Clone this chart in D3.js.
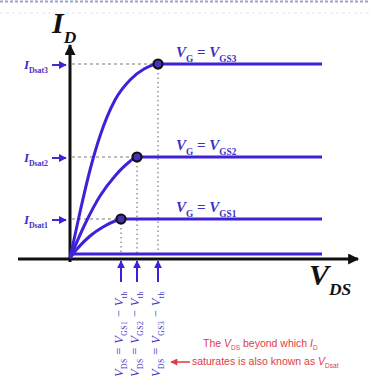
<!DOCTYPE html>
<html><head><meta charset="utf-8">
<script src="https://cdn.jsdelivr.net/npm/d3@7"></script>
<style>body{margin:0;background:#fff}svg{display:block}</style>
</head><body>
<script>
// Output characteristics of a MOSFET: I_D versus V_DS for three gate voltages
const gateLevels = ["GS1", "GS2", "GS3"];
const satLabels = ["Dsat1", "Dsat2", "Dsat3"];
const satVds = [2.55, 3.35, 4.4];      // V_DS where each curve saturates
const satId = [1.95, 5.05, 9.7];       // saturation current of each curve
const triodeVds = [
  [0, 0.35, 1.0, 1.65, 2.25, 2.55],
  [0, 0.8, 1.5, 2.25, 2.9, 3.35],
  [0, 0.5, 1.0, 1.5, 2.25, 3.0, 3.7, 4.4]
];
const triodeId = [
  [0, 0.45, 1.1, 1.55, 1.85, 1.95],
  [0, 1.8, 3.1, 4.1, 4.75, 5.05],
  [0, 2.3, 4.4, 6.1, 7.9, 8.9, 9.45, 9.7]
];
const vdsEnd = 12.6;      // right end of the drawn curves
const cutoffId = 0.2;     // curve for V_G below threshold

const W = 370, H = 381;
const blue = "#3c22d8";
const labelBlue = "#3d30c4";

const x = d3.scaleLinear().domain([0, 14]).range([70, 350]);
const y = d3.scaleLinear().domain([0, 10]).range([258, 58]);

const svg = d3.select("body").append("svg").attr("width", W).attr("height", H);

const defs = svg.append("defs");
function arrowMarker(id, color, w, h) {
  defs.append("marker").attr("id", id)
    .attr("viewBox", "0 0 10 10").attr("refX", 9).attr("refY", 5)
    .attr("markerWidth", w).attr("markerHeight", h)
    .attr("markerUnits", "userSpaceOnUse").attr("orient", "auto")
    .append("path").attr("d", "M0,0 L10,5 L0,10 Z").attr("fill", color);
}
arrowMarker("axisHead", "#111", 12, 11);
arrowMarker("blueHead", blue, 8, 8);
arrowMarker("redHead", "#e23a44", 8, 7);

// faint dotted rule along the top edge
svg.append("line").attr("x1", 0).attr("x2", W).attr("y1", 1.5).attr("y2", 1.5)
  .attr("stroke", "#9ea3cc").attr("stroke-width", 2).attr("stroke-dasharray", "3,2");
svg.append("line").attr("x1", 0).attr("x2", W).attr("y1", 13).attr("y2", 13)
  .attr("stroke", "#eceef6").attr("stroke-width", 1.5).attr("stroke-dasharray", "3,3");

// rich text helper: parts with italics and subscripts
function rich(textSel, parts, size) {
  let shift = 0;
  parts.forEach(p => {
    const target = p.sub ? size * 0.32 : 0;
    textSel.append("tspan")
      .attr("dy", target - shift)
      .attr("font-size", p.sub ? size * (p.subScale || 0.62) : size)
      .attr("font-style", p.i ? "italic" : null)
      .text(p.t);
    shift = target;
  });
}

// guide lines from axes to the saturation points
const guides = svg.append("g").attr("stroke", "#7a7a7a").attr("stroke-width", 1.2);
satVds.forEach((v, i) => {
  guides.append("line")
    .attr("x1", x(0) + 2).attr("x2", x(v)).attr("y1", y(satId[i])).attr("y2", y(satId[i]))
    .attr("stroke-dasharray", "3,3");
  guides.append("line")
    .attr("x1", x(v)).attr("x2", x(v)).attr("y1", y(satId[i])).attr("y2", y(0) - 3)
    .attr("stroke-dasharray", "1.5,3");
});

// axes
svg.append("line").attr("x1", x(0)).attr("x2", x(0)).attr("y1", y(0) + 4).attr("y2", 45)
  .attr("stroke", "#111").attr("stroke-width", 3).attr("marker-end", "url(#axisHead)");
svg.append("line").attr("x1", 18).attr("x2", 358).attr("y1", y(0) + 1).attr("y2", y(0) + 1)
  .attr("stroke", "#111").attr("stroke-width", 3).attr("marker-end", "url(#axisHead)");

// curves
const line = d3.line().x(d => x(d[0])).y(d => y(d[1])).curve(d3.curveMonotoneX);
gateLevels.forEach((g, i) => {
  const pts = triodeVds[i].map((v, k) => [v, triodeId[i][k]]);
  pts.push([vdsEnd, satId[i]]);
  svg.append("path").attr("d", line(pts)).attr("fill", "none")
    .attr("stroke", blue).attr("stroke-width", 3).attr("stroke-linejoin", "round");
});
svg.append("line").attr("x1", x(0)).attr("x2", x(vdsEnd)).attr("y1", y(cutoffId)).attr("y2", y(cutoffId))
  .attr("stroke", blue).attr("stroke-width", 3);

// saturation points
satVds.forEach((v, i) => {
  svg.append("circle").attr("cx", x(v)).attr("cy", y(satId[i])).attr("r", 4.5)
    .attr("fill", "#4a2fb8").attr("stroke", "#111").attr("stroke-width", 2.2);
});

// curve labels V_G = V_GSn
gateLevels.forEach((g, i) => {
  const t = svg.append("text").attr("x", x(satVds[2]) + 18).attr("y", y(satId[i]) - 7)
    .attr("font-family", "Liberation Serif, serif").attr("fill", labelBlue).attr("font-weight", "bold");
  rich(t, [{t: "V", i: true}, {t: "G", sub: true}, {t: " = "}, {t: "V", i: true}, {t: g, sub: true}], 15);
});

// saturation current labels on the vertical axis
satLabels.forEach((s, i) => {
  const yy = y(satId[i]) + 1;
  const t = svg.append("text").attr("x", 48).attr("y", yy + 4).attr("text-anchor", "end")
    .attr("font-family", "Liberation Serif, serif").attr("fill", labelBlue).attr("font-weight", "bold");
  rich(t, [{t: "I", i: true}, {t: s, sub: true, subScale: 0.6}], 13);
  svg.append("line").attr("x1", 52).attr("x2", 66).attr("y1", yy).attr("y2", yy)
    .attr("stroke", labelBlue).attr("stroke-width", 2).attr("marker-end", "url(#blueHead)");
});

// axis titles
const yt = svg.append("text").attr("x", 52).attr("y", 33)
  .attr("font-family", "Liberation Serif, serif").attr("font-weight", "bold").attr("fill", "#111");
rich(yt, [{t: "I", i: true}, {t: "D", sub: true, i: true, subScale: 0.58}], 30);
const xt = svg.append("text").attr("x", 309).attr("y", 285)
  .attr("font-family", "Liberation Serif, serif").attr("font-weight", "bold").attr("fill", "#111");
rich(xt, [{t: "V", i: true}, {t: "DS", sub: true, i: true, subScale: 0.58}], 30);

// arrows and rotated expressions below the V_DS axis
satVds.forEach((v, i) => {
  svg.append("line").attr("x1", x(v)).attr("x2", x(v)).attr("y1", 282).attr("y2", 261)
    .attr("stroke", blue).attr("stroke-width", 2).attr("marker-end", "url(#blueHead)");
  const t = svg.append("text")
    .attr("transform", `translate(${x(v) + 2},377) rotate(-90)`)
    .attr("font-family", "Liberation Serif, serif").attr("fill", labelBlue)
    .attr("letter-spacing", 0.4);
  rich(t, [{t: "V", i: true}, {t: "DS", sub: true}, {t: " = "}, {t: "V", i: true},
           {t: gateLevels[i], sub: true}, {t: " \u2212 "}, {t: "V", i: true}, {t: "th", sub: true}], 12.5);
});

// note about V_Dsat
const red = "#e23a44";
const n1 = svg.append("text").attr("x", 203).attr("y", 347)
  .attr("font-family", "Liberation Sans, Arial, sans-serif").attr("fill", red);
rich(n1, [{t: "The "}, {t: "V", i: true}, {t: "DS", sub: true}, {t: " beyond which "}, {t: "I", i: true}, {t: "D", sub: true}], 10.5);
const n2 = svg.append("text").attr("x", 192).attr("y", 365)
  .attr("font-family", "Liberation Sans, Arial, sans-serif").attr("fill", red);
rich(n2, [{t: "saturates is also known as "}, {t: "V", i: true}, {t: "Dsat", sub: true}], 10.5);
svg.append("line").attr("x1", 190).attr("x2", 171).attr("y1", 362).attr("y2", 362)
  .attr("stroke", red).attr("stroke-width", 1.5).attr("marker-end", "url(#redHead)");
</script>
</body></html>
